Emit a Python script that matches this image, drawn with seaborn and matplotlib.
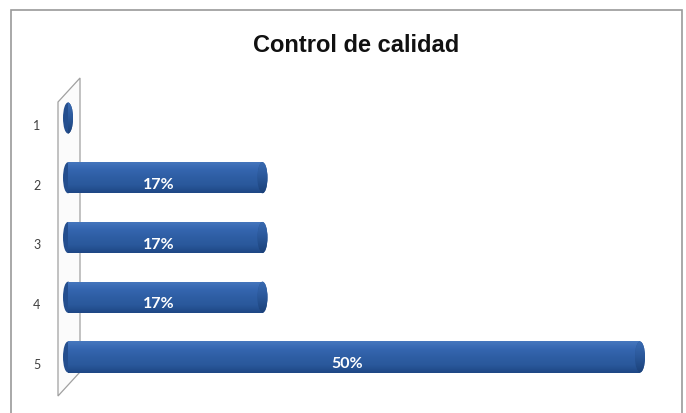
import numpy as np
import matplotlib
matplotlib.use("Agg")
import matplotlib.pyplot as plt
import matplotlib.transforms as mtrans
from matplotlib.patches import Ellipse, Polygon, Rectangle
from matplotlib.colors import LinearSegmentedColormap
import seaborn as sns

categories = ["1", "2", "3", "4", "5"]
values = [0, 17, 17, 17, 50]
labels = ["", "17%", "17%", "17%", "50%"]
title = "Control de calidad"

sns.set_style("white")
plt.rcParams["font.family"] = ["Liberation Sans", "DejaVu Sans"]

W, H = 686, 413
fig = plt.figure(figsize=(W / 100, H / 100), dpi=100)
fig.patch.set_facecolor("white")

def fx(px):
    return px / W

def fy(py):
    return 1 - py / H

# axes placement in pixels
ax_l, ax_r, ax_t, ax_b = 68, 670, 60, 400
ax = fig.add_axes([fx(ax_l), fy(ax_b), (ax_r - ax_l) / W, (ax_b - ax_t) / H])
ax.set_facecolor("none")

bar_h = 0.52
sns.barplot(x=values, y=categories, orient="h", color="#2E5FA4", width=bar_h,
            ax=ax, zorder=3)

px_per_unit = 11.44
xmax = (ax_r - ax_l) / px_per_unit
ytop = (ax_t - 118) / 59.75
ybot = 4 + (ax_b - 357) / 59.75

bar_cmap = LinearSegmentedColormap.from_list(
    "cyl", ["#4677BE", "#3566B0", "#2E5EA4", "#2A589B", "#1E4785"])
cap_cmap = LinearSegmentedColormap.from_list(
    "cap", ["#3A6BB2", "#2A5799", "#1B4179"])
grad = np.linspace(0, 1, 64).reshape(-1, 1)

cap_w = 10 / px_per_unit
for i, p in enumerate(list(ax.patches)):
    x0 = p.get_x()
    w = p.get_width()
    y0 = p.get_y()
    h = p.get_height()
    yc = y0 + h / 2
    p.set_edgecolor("none")
    p.set_linewidth(0)
    # back (left) end of cylinder
    e_left = Ellipse((x0, yc), cap_w, h, facecolor="#244E8E", edgecolor="none",
                     zorder=2, clip_on=False)
    ax.add_patch(e_left)
    im = ax.imshow(grad, extent=[x0 - cap_w, x0 + cap_w, y0 + h, y0], aspect="auto",
                   cmap=cap_cmap, zorder=2.5)
    im.set_clip_path(e_left)
    if w > 0:
        im = ax.imshow(grad, extent=[x0, x0 + w, y0 + h, y0], aspect="auto",
                       cmap=bar_cmap, zorder=3.2)
        im.set_clip_path(p)
        e_right = Ellipse((x0 + w, yc), cap_w, h, facecolor="#2A5799",
                          edgecolor="none", zorder=4)
        ax.add_patch(e_right)
        im = ax.imshow(grad, extent=[x0 + w - cap_w, x0 + w + cap_w, y0 + h, y0],
                       aspect="auto", cmap=cap_cmap, zorder=4.2)
        im.set_clip_path(e_right)
    else:
        p.set_visible(False)
    if labels[i]:
        ax.text(x0 + w / 2 - 0.6, yc + 0.12, labels[i], color="white", fontsize=11.5,
                fontweight="bold", ha="center", va="center", zorder=6,
                family=["Lato", "DejaVu Sans"])

ax.set_xlim(0, xmax)
ax.set_ylim(ybot, ytop)
ax.set_xticks([])
ax.set_xlabel("")
ax.set_ylabel("")
for s in ax.spines.values():
    s.set_visible(False)
ax.tick_params(axis="y", length=0, pad=24, labelsize=9, labelcolor="#404040")
offset = mtrans.ScaledTranslation(4 / 72, -5 / 72, fig.dpi_scale_trans)
for t in ax.get_yticklabels():
    t.set_family(["Lato", "DejaVu Sans"])
    t.set_transform(t.get_transform() + offset)

# 3D wall on the left (behind the bars)
wall = Polygon([(fx(58), fy(102)), (fx(80), fy(78)), (fx(80), fy(372)), (fx(58), fy(396))],
               closed=True, transform=fig.transFigure, facecolor="#FBFBFB",
               edgecolor="#A0A0A0", linewidth=0.9, zorder=0.5, clip_on=False)
ax.add_artist(wall)

# outer border
border = Rectangle((fx(11), fy(H + 5)), (682 - 11) / W, (H + 5 - 10) / H,
                   transform=fig.transFigure, facecolor="none",
                   edgecolor="#9A9A9A", linewidth=1.2, zorder=0)
fig.patches.append(border)

fig.text(fx(356), fy(46), title, ha="center", va="center", fontsize=17,
         fontweight="bold", color="#111111")

fig.savefig("out.png", dpi=100)
